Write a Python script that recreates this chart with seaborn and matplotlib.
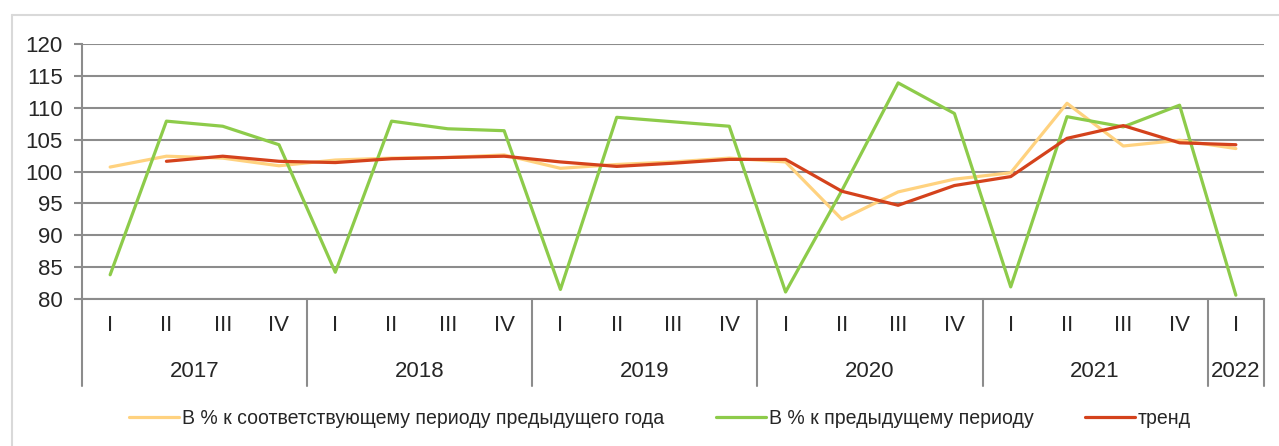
import matplotlib
matplotlib.use('Agg')
import matplotlib.pyplot as plt
import matplotlib.transforms as mtransforms
from matplotlib.lines import Line2D
import seaborn as sns
import numpy as np
import pandas as pd

# ---------------- data ----------------
years = ['2017', '2018', '2019', '2020', '2021', '2022']
year_quarters = [4, 4, 4, 4, 4, 1]
quarters = ['I', 'II', 'III', 'IV'] * 5 + ['I']

yoy = [100.7, 102.4, 102.1, 100.9, 101.8, 102.1, 102.2, 102.6, 100.5, 101.1,
       101.5, 102.1, 101.5, 92.5, 96.8, 98.8, 99.8, 110.7, 104.0, 104.9, 103.6]
qoq = [83.8, 107.9, 107.1, 104.2, 84.2, 107.9, 106.7, 106.4, 81.5, 108.5,
       107.8, 107.1, 81.1, 97.0, 113.9, 109.1, 81.9, 108.6, 107.0, 110.4, 80.6]
trend = [np.nan, 101.6, 102.4, 101.6, 101.4, 102.0, 102.2, 102.4, 101.5, 100.8,
         101.3, 101.9, 101.9, 96.9, 94.7, 97.8, 99.2, 105.2, 107.2, 104.5, 104.2]

series_names = ['В % к соответствующему периоду предыдущего года',
                'В % к предыдущему периоду',
                'тренд']
colors = ['#FFD27F', '#8DCB4A', '#D4421C']

# ---------------- figure ----------------
sns.set_theme(style='white')
plt.rcParams['font.family'] = ['Liberation Sans Narrow', 'Liberation Sans', 'DejaVu Sans']

W, H = 1279, 446
fig = plt.figure(figsize=(W / 100, H / 100), dpi=100)
ax = fig.add_axes([82 / W, (H - 299) / H, (1264 - 82) / W, (299 - 44) / H])

df = pd.DataFrame({'idx': np.arange(len(quarters)), 'yoy': yoy, 'qoq': qoq, 'trend': trend})
for col, name, c in zip(['yoy', 'qoq', 'trend'], series_names, colors):
    sns.lineplot(data=df, x='idx', y=col, ax=ax, color=c, lw=2.3, label=name)

ax.set_xlim(-0.5, len(quarters) - 0.5)
ax.set_ylim(80, 120)
ax.set_yticks(range(80, 121, 5))
ax.set_xticks([])
ax.set_xlabel('')
ax.set_ylabel('')
ax.set_axisbelow(True)
ax.yaxis.grid(True, color='#8c8c8c', lw=1.5)
ax.xaxis.grid(False)
for s in ['top', 'right']:
    ax.spines[s].set_visible(False)
for s in ['left', 'bottom']:
    ax.spines[s].set_color('#8c8c8c')
    ax.spines[s].set_linewidth(1.5)
ax.tick_params(axis='y', direction='out', length=6, width=1.5, color='#8c8c8c',
               pad=8, labelsize=16, labelcolor='#262626', left=True)
ax.get_legend().remove()

# category axis: quarters, years and separators
trans = mtransforms.blended_transform_factory(ax.transData, ax.transAxes)
for i, q in enumerate(quarters):
    ax.text(i, -0.105, q, transform=trans, ha='center', va='center',
            fontsize=16, color='#262626')
start = 0
bounds = [-0.5]
for y, n in zip(years, year_quarters):
    ax.text(start + (n - 1) / 2, -0.285, y, transform=trans, ha='center', va='center',
            fontsize=16, color='#262626')
    start += n
    bounds.append(start - 0.5)
for b in bounds:
    ax.add_line(Line2D([b, b], [0, -0.34], transform=trans, color='#8c8c8c',
                       lw=1.5, clip_on=False))

# legend
handles = [Line2D([0], [0], color=c, lw=2.3) for c in colors]
fig.legend(handles, series_names, loc='center left',
           bbox_to_anchor=(129 / W, (H - 418) / H), ncol=3, frameon=False,
           fontsize=14.05, handlelength=2.56, handletextpad=0.15, columnspacing=2.65,
           borderpad=0, borderaxespad=0, labelcolor='#262626')

# outer frame (left and top edges)
fig.add_artist(Line2D([12 / W, 12 / W], [0, (H - 15) / H], transform=fig.transFigure,
                      color='#d9d9d9', lw=1.5))
fig.add_artist(Line2D([12 / W, 1], [(H - 15) / H, (H - 15) / H], transform=fig.transFigure,
                      color='#d9d9d9', lw=1.5))

fig.savefig('out.png', dpi=100, facecolor='white')
